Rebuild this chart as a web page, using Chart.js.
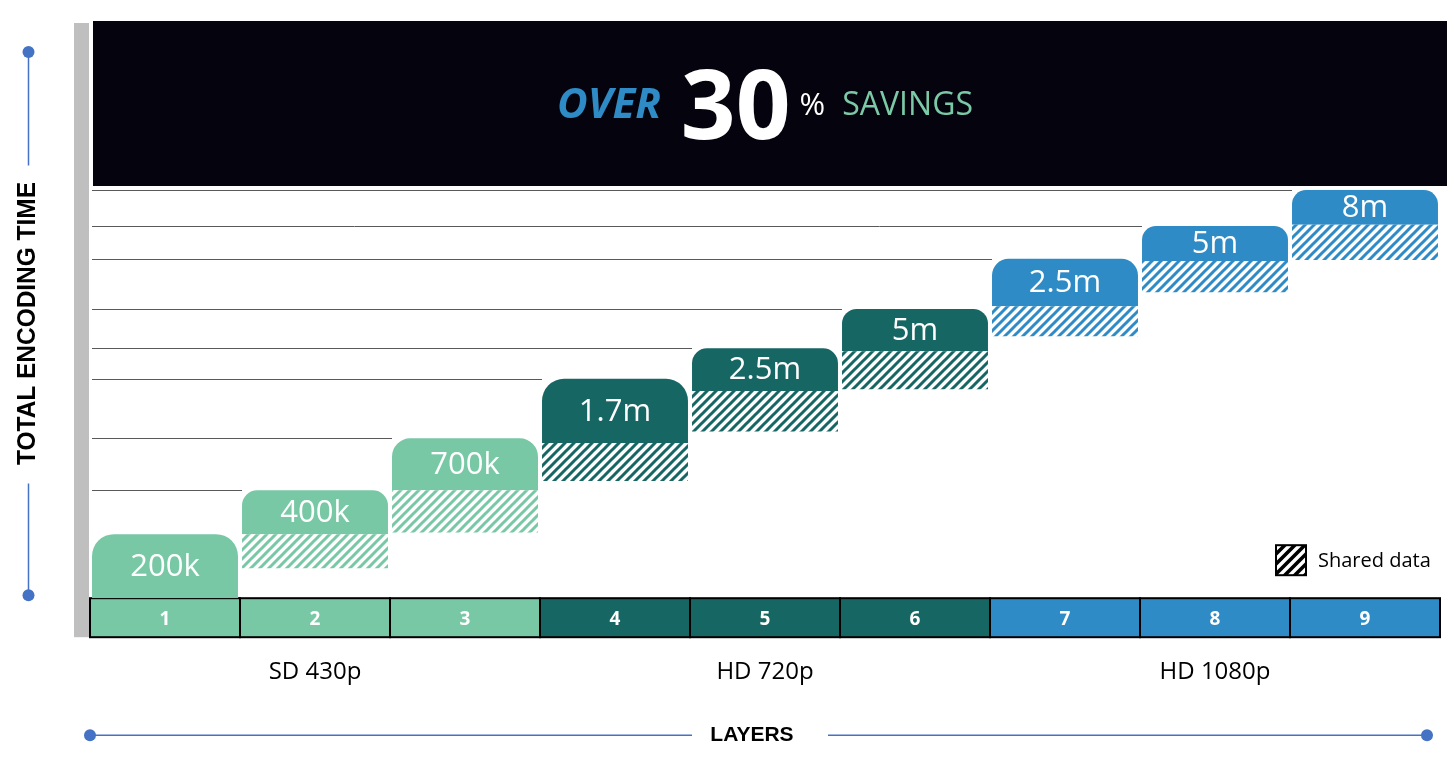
<!DOCTYPE html>
<html>
<head>
<meta charset="utf-8">
<title>Total encoding time per layer</title>
<script src="https://cdn.jsdelivr.net/npm/chart.js@4.4.1/dist/chart.umd.min.js"></script>
<style>
  html, body { margin: 0; padding: 0; background: #fff; }
  canvas { display: block; }
</style>
</head>
<body>
<canvas id="layersChart" width="1447" height="769"></canvas>
<script>
const layers = ['1', '2', '3', '4', '5', '6', '7', '8', '9'];
const layerLabels = ['200k', '400k', '700k', '1.7m', '2.5m', '5m', '2.5m', '5m', '8m'];
// total encoding time, arbitrary units (0 - 100)
const sharedStart = [0, 5.2, 11.4, 20.3, 28.9, 36.2, 45.4, 53.0, 58.6];
const sharedEnd = [0, 11.1, 18.7, 26.9, 35.9, 42.8, 50.6, 58.4, 64.7];
const layerTop = [11.1, 18.7, 27.7, 38.0, 43.3, 50.1, 58.8, 64.5, 70.7];
const tiers = ['SD 430p', 'HD 720p', 'HD 1080p'];
const layerTier = [0, 0, 0, 1, 1, 1, 2, 2, 2];
const tierColors = ['#78C8A6', '#166664', '#2E8BC5'];

const blue = '#4472C4';

function hatch(color, size, width) {
  const c = document.createElement('canvas');
  c.width = size;
  c.height = size;
  const g = c.getContext('2d');
  g.fillStyle = '#fff';
  g.fillRect(0, 0, size, size);
  g.strokeStyle = color;
  g.lineWidth = width;
  g.beginPath();
  for (let k = 0; k <= 2; k++) {
    g.moveTo(k * size - 2 * size, 2 * size);
    g.lineTo(k * size + 2 * size, -2 * size);
  }
  g.stroke();
  return g.createPattern(c, 'repeat');
}

const ctx0 = document.getElementById('layersChart').getContext('2d');
const tierHatch = tierColors.map(c => hatch(c, 9, 3));
const legendHatch = hatch('#000', 10, 3.6);

Chart.defaults.font.family = '"Open Sans"';

const decor = {
  id: 'decor',
  beforeDraw(chart) {
    const ctx = chart.ctx;
    const { left, right, top, bottom } = chart.chartArea;
    const x = chart.scales.x;
    const step = x.width / layers.length;
    ctx.save();

    // grey bar on the left
    ctx.fillStyle = '#BFBFBF';
    ctx.fillRect(left - 16, top + 2, 15, bottom + 39 - top - 2);

    // banner
    ctx.fillStyle = '#05040E';
    ctx.fillRect(left + 3, top, chart.width - left - 3, 165);
    const parts = [
      { t: 'OVER', font: 'italic bold 42px "Open Sans"', color: '#2E8BC5', base: 118, gap: 20 },
      { t: '30', font: 'bold 96px "Open Sans"', color: '#fff', base: 139, gap: 9 },
      { t: '%', font: '31px "Open Sans"', color: '#fff', base: 115, gap: 17 },
      { t: 'SAVINGS', font: '32px "Open Sans"', color: '#7BC9A6', base: 115, gap: 0 }
    ];
    let total = 0;
    parts.forEach(p => {
      ctx.font = p.font;
      p.w = ctx.measureText(p.t).width;
      total += p.w + p.gap;
    });
    let cx = (left + right) / 2 - total / 2;
    ctx.textAlign = 'left';
    ctx.textBaseline = 'alphabetic';
    parts.forEach(p => {
      ctx.font = p.font;
      ctx.fillStyle = p.color;
      ctx.fillText(p.t, cx, p.base);
      cx += p.w + p.gap;
    });

    // layer cells under the bars
    ctx.lineWidth = 2;
    ctx.strokeStyle = '#000';
    layers.forEach((l, i) => {
      const px = x.getPixelForValue(i);
      ctx.fillStyle = tierColors[layerTier[i]];
      ctx.fillRect(px - step / 2, bottom, step, 39);
      ctx.strokeRect(px - step / 2, bottom, step, 39);
    });

    // tier names
    ctx.fillStyle = '#000';
    ctx.font = '24px "Open Sans"';
    ctx.textAlign = 'center';
    ctx.textBaseline = 'middle';
    tiers.forEach((name, t) => {
      const idx = layerTier.map((v, i) => v === t ? i : -1).filter(i => i >= 0);
      const px = (x.getPixelForValue(idx[0]) + x.getPixelForValue(idx[idx.length - 1])) / 2;
      ctx.fillText(name, px, bottom + 74);
    });

    // LAYERS axis line
    const ly = bottom + 137;
    const mid = (left + right) / 2 - 13;
    ctx.font = 'bold 21px "Liberation Sans"';
    ctx.fillText('LAYERS', mid, ly);
    ctx.strokeStyle = blue;
    ctx.lineWidth = 1.5;
    ctx.beginPath();
    ctx.moveTo(left, ly);
    ctx.lineTo(mid - 60, ly);
    ctx.moveTo(mid + 76, ly);
    ctx.lineTo(right - 13, ly);
    ctx.stroke();
    ctx.fillStyle = blue;
    [left, right - 13].forEach(px => {
      ctx.beginPath();
      ctx.arc(px, ly, 6, 0, Math.PI * 2);
      ctx.fill();
    });

    // TOTAL ENCODING TIME axis line
    const vx = 28.5;
    const vmid = 323.5;
    ctx.beginPath();
    ctx.moveTo(vx, top + 31);
    ctx.lineTo(vx, vmid - 158);
    ctx.moveTo(vx, vmid + 160);
    ctx.lineTo(vx, bottom - 3);
    ctx.stroke();
    [top + 31, bottom - 3].forEach(py => {
      ctx.beginPath();
      ctx.arc(vx, py, 6, 0, Math.PI * 2);
      ctx.fill();
    });
    ctx.save();
    ctx.translate(vx, vmid);
    ctx.rotate(-Math.PI / 2);
    ctx.font = 'bold 25px "Liberation Sans"';
    const tw = ctx.measureText('TOTAL ENCODING TIME').width;
    ctx.scale(283 / tw, 1);
    ctx.fillStyle = '#000';
    ctx.fillText('TOTAL ENCODING TIME', 0, 0);
    ctx.restore();

    // legend
    const sx = right - 164;
    const sy = bottom - 53;
    ctx.fillStyle = legendHatch;
    ctx.fillRect(sx, sy, 30, 30);
    ctx.strokeStyle = '#000';
    ctx.lineWidth = 2;
    ctx.strokeRect(sx, sy, 30, 30);
    ctx.fillStyle = '#000';
    ctx.font = '20px "Open Sans"';
    ctx.textAlign = 'left';
    ctx.fillText(chart.data.datasets[0].label, sx + 42, sy + 16);

    ctx.restore();
  },
  beforeDatasetsDraw(chart) {
    const ctx = chart.ctx;
    const { left } = chart.chartArea;
    const meta = chart.getDatasetMeta(1);
    ctx.save();
    ctx.strokeStyle = '#595959';
    ctx.lineWidth = 1;
    meta.data.forEach(bar => {
      const p = bar.getProps(['x', 'y', 'width'], true);
      const y = Math.round(p.y) + 0.5;
      ctx.beginPath();
      ctx.moveTo(left + 2, y);
      ctx.lineTo(p.x - p.width / 2, y);
      ctx.stroke();
    });
    ctx.restore();
  },
  afterDatasetsDraw(chart) {
    const ctx = chart.ctx;
    const meta = chart.getDatasetMeta(1);
    ctx.save();
    ctx.fillStyle = '#fff';
    ctx.font = '31px "Open Sans"';
    ctx.textAlign = 'center';
    ctx.textBaseline = 'middle';
    meta.data.forEach((bar, i) => {
      const p = bar.getProps(['x', 'y', 'base'], true);
      ctx.fillText(layerLabels[i], p.x, (p.y + p.base) / 2 + 1);
    });
    ctx.restore();
  }
};

new Chart(ctx0, {
  type: 'bar',
  data: {
    labels: layers,
    datasets: [
      {
        label: 'Shared data',
        data: layers.map((_, i) => [sharedStart[i], sharedEnd[i]]),
        backgroundColor: layers.map((_, i) => tierHatch[layerTier[i]]),
        grouped: false,
        barPercentage: 0.973,
        categoryPercentage: 1,
        borderWidth: 0
      },
      {
        label: 'Layer encoding',
        data: layers.map((_, i) => [sharedEnd[i], layerTop[i]]),
        backgroundColor: layers.map((_, i) => tierColors[layerTier[i]]),
        grouped: false,
        barPercentage: 0.973,
        categoryPercentage: 1,
        borderWidth: 0,
        borderSkipped: false,
        borderRadius: c => {
          const y = c.chart.scales.y;
          let r = 15;
          if (y) {
            const h = Math.abs(y.getPixelForValue(layerTop[c.dataIndex]) - y.getPixelForValue(sharedEnd[c.dataIndex]));
            r = Math.min(22, Math.max(14, h * 0.35));
          }
          return { topLeft: r, topRight: r, bottomLeft: 0, bottomRight: 0 };
        }
      }
    ]
  },
  options: {
    responsive: false,
    animation: false,
    devicePixelRatio: 1,
    layout: { padding: { left: 90, right: 7, top: 21, bottom: 128 } },
    plugins: {
      legend: { display: false },
      tooltip: { enabled: false }
    },
    scales: {
      x: {
        grid: { display: false, drawTicks: false },
        border: { display: false },
        ticks: {
          color: '#fff',
          font: { weight: 'bold', size: 19 },
          padding: 10,
          maxRotation: 0,
          autoSkip: false
        }
      },
      y: {
        display: false,
        min: 0,
        max: 100
      }
    }
  },
  plugins: [decor]
});
</script>
</body>
</html>
